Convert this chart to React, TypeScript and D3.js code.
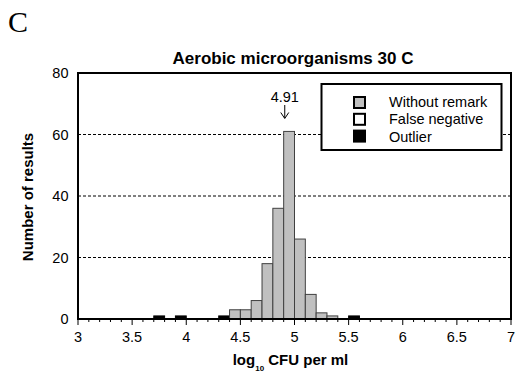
import React from "react";
import * as d3 from "d3";

const binStarts = [3.7, 3.9, 4.3, 4.4, 4.5, 4.6, 4.7, 4.8, 4.9, 5.0, 5.1, 5.2, 5.3, 5.5];
const binCounts = [1, 1, 1, 3, 3, 6, 18, 36, 61, 26, 8, 2, 1, 1];
const binTypes = ["Outlier", "Outlier", "Outlier", "Without remark", "Without remark", "Without remark", "Without remark", "Without remark", "Without remark", "Without remark", "Without remark", "Without remark", "Without remark", "Outlier"];
const legendLabels = ["Without remark", "False negative", "Outlier"];
const legendFills = ["#c0c0c0", "#ffffff", "#000000"];
const xTicks = [3, 3.5, 4, 4.5, 5, 5.5, 6, 6.5, 7];
const yTicks = [0, 20, 40, 60, 80];
const gridValues = [20, 40, 60];
const binWidth = 0.1;
const medianValue = 4.91;

export default function App() {
  const W = 517, H = 372;
  const left = 78, right = 511, top = 73, bottom = 319;
  const x = d3.scaleLinear().domain([3, 7]).range([left, right]);
  const y = d3.scaleLinear().domain([0, 80]).range([bottom, top]);
  const minor = d3.range(30, 71).map((d) => d / 10);
  const font = "Liberation Sans, Arial, sans-serif";
  const fillFor = (t: string) => legendFills[legendLabels.indexOf(t)];

  return (
    <svg width={W} height={H} style={{ position: "absolute", left: 0, top: 0 }}>
      <rect x={0} y={0} width={W} height={H} fill="#fff" />
      <text x={8} y={31.5} fontFamily="Liberation Serif, Times New Roman, serif" fontSize={30}>C</text>
      <text x={293} y={63.5} textAnchor="middle" fontFamily={font} fontSize={17} fontWeight="bold">Aerobic microorganisms 30 C</text>

      {gridValues.map((g) => (
        <line key={g} x1={left} x2={right} y1={y(g)} y2={y(g)} stroke="#000" strokeWidth={1} strokeDasharray="3,2" />
      ))}

      {binStarts.map((s, i) => (
        <rect
          key={i}
          x={x(s)}
          y={y(binCounts[i])}
          width={x(s + binWidth) - x(s)}
          height={y(0) - y(binCounts[i])}
          fill={fillFor(binTypes[i])}
          stroke={binTypes[i] === "Outlier" ? "#000" : "#404040"}
          strokeWidth={1}
        />
      ))}

      <rect x={left} y={top} width={right - left} height={bottom - top} fill="none" stroke="#000" strokeWidth={2} />

      {minor.map((m, i) => {
        const major = Math.abs(m * 2 - Math.round(m * 2)) < 1e-6;
        return <line key={i} x1={x(m)} x2={x(m)} y1={bottom} y2={bottom + (major ? 6 : 3)} stroke="#000" strokeWidth={1} />;
      })}

      {xTicks.map((t) => (
        <text key={t} x={x(t)} y={342} textAnchor="middle" fontFamily={font} fontSize={14.5}>{t}</text>
      ))}
      {yTicks.map((t) => (
        <text key={t} x={68.5} y={y(t) + 5} textAnchor="end" fontFamily={font} fontSize={14.5}>{t}</text>
      ))}

      <text x={0} y={0} transform={`translate(33,197) rotate(-90)`} textAnchor="middle" fontFamily={font} fontSize={15} fontWeight="bold">Number of results</text>

      <text x={290.5} y={365} textAnchor="middle" fontFamily={font} fontSize={15} fontWeight="bold">
        log<tspan fontSize={8} dy={6}>10</tspan><tspan dy={-6}> CFU per ml</tspan>
      </text>

      <text x={x(medianValue)} y={101.5} textAnchor="middle" fontFamily={font} fontSize={14.5}>{medianValue}</text>
      <line x1={x(medianValue)} x2={x(medianValue)} y1={105} y2={118} stroke="#000" strokeWidth={1} />
      <path d={`M${x(medianValue) - 4},${112.5} L${x(medianValue)},${118.5} L${x(medianValue) + 4},${112.5}`} fill="none" stroke="#000" strokeWidth={1} />

      <rect x={321.5} y={84} width={180} height={66} fill="#fff" stroke="#000" strokeWidth={2} />
      {legendLabels.map((l, i) => (
        <g key={l}>
          <rect x={354} y={97 + i * 16.8} width={11} height={11} fill={legendFills[i]} stroke="#000" strokeWidth={2} />
          <text x={389} y={107 + i * 17.4} fontFamily={font} fontSize={14.5}>{l}</text>
        </g>
      ))}
    </svg>
  );
}
